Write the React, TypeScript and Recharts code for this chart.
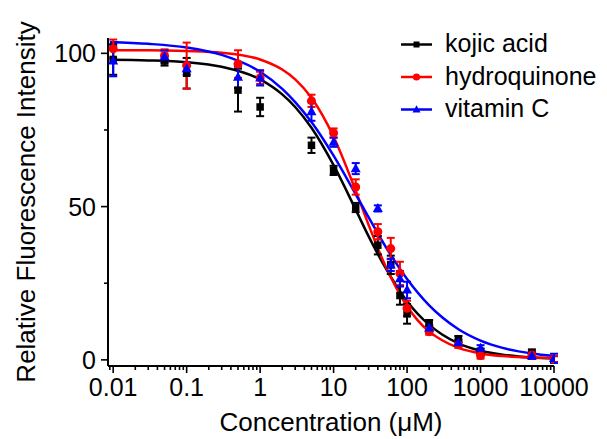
import React from "react";
import { ComposedChart, Line, Scatter, ErrorBar, XAxis, YAxis, Legend } from "recharts";

const FONT = "'Liberation Sans', Arial, Helvetica, sans-serif";

// measured points (mean ± SD), concentrations in µM
const concentrations = [0.01, 0.05, 0.1, 0.5, 1, 5, 10, 20, 40, 60, 80, 100, 200, 500, 1000, 5000, 10000];
const kojicMean = [98, 97.5, 93.5, 88, 82.5, 70, 61.8, 49.7, 37.4, 31, 21, 15, 12, 6.8, 2.7, 2.4, 0.2];
const kojicSd = [5, 1.5, 5, 7, 3, 2.5, 1.5, 1.5, 3, 3, 3, 3.2, 1, 1, 1, 1, 1];
const hydroMean = [101.5, 99.3, 96, 96.5, 92, 84.5, 74, 56.4, 41.8, 36.3, 28.2, 16.8, 9.2, 4.9, 1.4, 1.6, 0.3];
const hydroSd = [3, 2, 7.5, 4.5, 2, 2, 1.5, 2.5, 2.5, 3.5, 3.8, 2.5, 1, 1, 1, 1, 1];
const vitcMean = [97.5, 98.9, 95, 92.2, 92, 81, 71, 62.4, 49.4, 31, 26.5, 22.8, 10.4, 5.6, 3.8, 1.3, 0.5];
const vitcSd = [5, 2, 2, 3.5, 2.5, 3, 1.5, 1.8, 1, 2, 2.5, 2.7, 1, 1, 1, 1, 1.5];

// fitted dose-response curves
const curveConc = [0.009, 0.03, 0.1, 0.3, 1, 2, 3, 5, 10, 20, 30, 50, 100, 200, 300, 500, 1000, 2000, 5000, 10000];
const kojicFit = [97.9, 97.7, 97.1, 95.6, 91.5, 86.6, 82.5, 75.7, 63.5, 49.0, 40.3, 30.3, 19.1, 11.4, 8.3, 5.4, 3.0, 1.7, 0.75, 0.41];
const hydroFit = [101.0, 101.0, 100.75, 100.2, 98.0, 94.7, 91.5, 85.5, 72.8, 55.2, 44.0, 31.0, 17.5, 9.2, 6.4, 3.9, 2.1, 1.25, 0.78, 0.63];
const vitcFit = [103.7, 103.1, 101.9, 99.5, 94.0, 88.4, 84.1, 77.6, 66.6, 54.0, 46.5, 37.3, 26.4, 17.8, 13.9, 10.0, 6.3, 3.9, 2.1, 1.3];

const seriesNames = ["kojic acid", "hydroquinone", "vitamin C"];
const seriesColors = ["#000000", "#ff0000", "#0000ff"];
const seriesShapes = ["square", "circle", "triangle"];

const xMajorTicks = [0.01, 0.1, 1, 10, 100, 1000, 10000];
const xMajorLabels = ["0.01", "0.1", "1", "10", "100", "1000", "10000"];
const yMajorTicks = [0, 50, 100];
const yMinorTicks = [25, 75];

const minorSteps = [2, 3, 4, 5, 6, 7, 8, 9];
const xTicks = [
  0.009,
  ...xMajorTicks,
  ...xMajorTicks.slice(0, -1).flatMap((d) => minorSteps.map((m) => Number((d * m).toPrecision(3)))),
].sort((a, b) => a - b);
const yTicks = [...yMajorTicks, ...yMinorTicks].sort((a, b) => a - b);

const points = (means: number[], sds: number[]) =>
  concentrations.map((x, i) => ({ x, y: means[i], err: sds[i] }));
const curve = (vals: number[]) => curveConc.map((x, i) => ({ x, y: vals[i] }));

const series = [
  { pts: points(kojicMean, kojicSd), fit: curve(kojicFit) },
  { pts: points(hydroMean, hydroSd), fit: curve(hydroFit) },
  { pts: points(vitcMean, vitcSd), fit: curve(vitcFit) },
];

function Marker({ kind, cx, cy, color, scale = 1 }: any) {
  if (kind === "square") {
    const s = 7.5 * scale;
    return <rect x={cx - s / 2} y={cy - s / 2} width={s} height={s} fill={color} />;
  }
  if (kind === "circle") return <circle cx={cx} cy={cy} r={4.5 * scale} fill={color} />;
  const w = 10 * scale;
  const h = 9 * scale;
  return (
    <polygon
      points={`${cx},${cy - h * 0.6} ${cx - w / 2},${cy + h * 0.4} ${cx + w / 2},${cy + h * 0.4}`}
      fill={color}
    />
  );
}

function XTick({ x, y, payload }: any) {
  const i = xMajorTicks.indexOf(payload.value);
  const major = i >= 0;
  return (
    <g>
      <line x1={x} x2={x} y1={y} y2={y + (major ? 7 : 4)} stroke="#000" strokeWidth={1.6} />
      {major && (
        <text x={x} y={y + 30} textAnchor="middle" fontSize={25} fontFamily={FONT} fill="#000">
          {xMajorLabels[i]}
        </text>
      )}
    </g>
  );
}

function YTick({ x, y, payload }: any) {
  const major = yMajorTicks.includes(payload.value);
  return (
    <g>
      <line x1={x - (major ? 7 : 4)} x2={x} y1={y} y2={y} stroke="#000" strokeWidth={1.6} />
      {major && (
        <text x={x - 12} y={y + 9} textAnchor="end" fontSize={25} fontFamily={FONT} fill="#000">
          {payload.value}
        </text>
      )}
    </g>
  );
}

const XTitle = () => (
  <text x={331} y={431} textAnchor="middle" fontSize={26} fontFamily={FONT} fill="#000">
    Concentration (μM)
  </text>
);

const YTitle = () => (
  <text transform="translate(35,202) rotate(-90)" textAnchor="middle" fontSize={26} fontFamily={FONT} fill="#000">
    Relative Fluorescence Intensity
  </text>
);

function LegendBox() {
  return (
    <svg width={212} height={110} style={{ display: "block" }}>
      {seriesNames.map((name, i) => {
        const cy = 19.5 + i * 32.5;
        return (
          <g key={name}>
            <line x1={6} x2={37} y1={cy} y2={cy} stroke={seriesColors[i]} strokeWidth={2.5} />
            <Marker kind={seriesShapes[i]} cx={21.5} cy={cy} color={seriesColors[i]} scale={0.8} />
            <text x={50} y={cy + 7.5} fontSize={25} fontFamily={FONT} fill="#000">
              {name}
            </text>
          </g>
        );
      })}
    </svg>
  );
}

export default function App() {
  return (
    <div style={{ position: "absolute", left: 0, top: 0, width: 607, height: 439, background: "#fff" }}>
      <ComposedChart width={607} height={439} margin={{ top: 38, right: 53, left: 48, bottom: 0 }}>
        <XAxis
          dataKey="x"
          type="number"
          scale="log"
          domain={[0.0085, 10000]}
          allowDataOverflow
          ticks={xTicks}
          interval={0}
          tick={<XTick />}
          tickLine={false}
          tickSize={0}
          tickMargin={0}
          height={73}
          axisLine={{ stroke: "#000", strokeWidth: 2 }}
          label={<XTitle />}
        />
        <YAxis
          dataKey="y"
          type="number"
          domain={[-2, 105]}
          allowDataOverflow
          ticks={yTicks}
          interval={0}
          tick={<YTick />}
          tickLine={false}
          tickSize={0}
          tickMargin={0}
          width={60}
          axisLine={{ stroke: "#000", strokeWidth: 2 }}
          label={<YTitle />}
        />
        <Legend
          content={LegendBox}
          layout="vertical"
          align="center"
          verticalAlign="middle"
          wrapperStyle={{ left: 395, top: 25, width: 212, height: 110 }}
        />
        {series.map((s, i) => (
          <Line
            key={"fit" + i}
            data={s.fit}
            dataKey="y"
            type="monotone"
            stroke={seriesColors[i]}
            strokeWidth={2.5}
            dot={false}
            activeDot={false}
            isAnimationActive={false}
            legendType="none"
          />
        ))}
        {series.map((s, i) => (
          <Scatter
            key={"pts" + i}
            name={seriesNames[i]}
            data={s.pts}
            dataKey="y"
            isAnimationActive={false}
            shape={(p: any) => <Marker kind={seriesShapes[i]} cx={p.cx} cy={p.cy} color={seriesColors[i]} />}
          >
            <ErrorBar dataKey="err" direction="y" width={4} strokeWidth={2} stroke={seriesColors[i]} isAnimationActive={false} />
          </Scatter>
        ))}
      </ComposedChart>
    </div>
  );
}
